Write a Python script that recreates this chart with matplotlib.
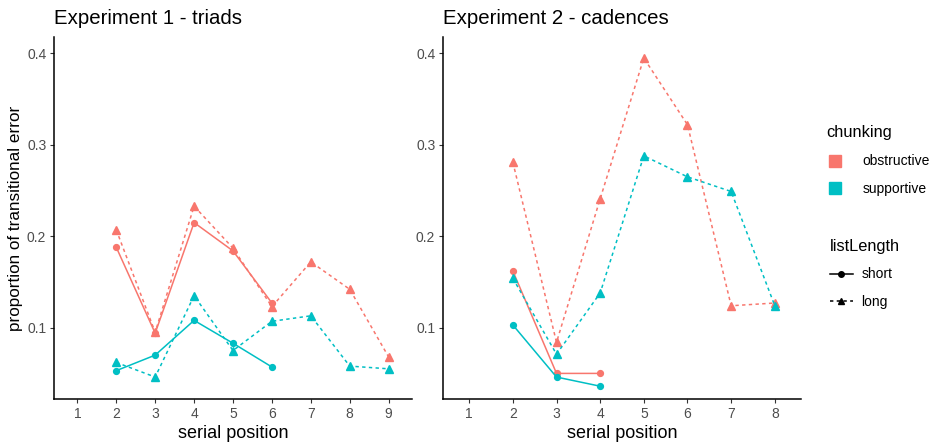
import matplotlib
matplotlib.use("Agg")
import matplotlib.pyplot as plt
from matplotlib.lines import Line2D

plt.rcParams['font.family'] = ['Liberation Sans', 'DejaVu Sans']

RED = '#F8766D'
CYAN = '#00BFC4'

# Experiment 1 - triads
e1_short_pos = [2, 3, 4, 5, 6]
e1_long_pos = [2, 3, 4, 5, 6, 7, 8, 9]
e1_obs_short = [0.188, 0.094, 0.215, 0.184, 0.127]
e1_obs_long = [0.207, 0.095, 0.233, 0.187, 0.123, 0.172, 0.142, 0.068]
e1_sup_short = [0.053, 0.070, 0.108, 0.083, 0.057]
e1_sup_long = [0.062, 0.046, 0.135, 0.075, 0.107, 0.113, 0.058, 0.055]

# Experiment 2 - cadences
e2_short_pos = [2, 3, 4]
e2_long_pos = [2, 3, 4, 5, 6, 7, 8]
e2_obs_short = [0.162, 0.050, 0.050]
e2_obs_long = [0.281, 0.084, 0.241, 0.395, 0.322, 0.124, 0.127]
e2_sup_short = [0.103, 0.046, 0.036]
e2_sup_long = [0.154, 0.071, 0.138, 0.288, 0.265, 0.249, 0.124]

titles = ["Experiment 1 - triads", "Experiment 2 - cadences"]
chunk_labels = ["obstructive", "supportive"]
length_labels = ["short", "long"]
yticks = [0.1, 0.2, 0.3, 0.4]

W, H = 933, 442
fig = plt.figure(figsize=(W / 100, H / 100), dpi=100)

def box(x0, x1, y0, y1):
    return [x0 / W, 1 - y1 / H, (x1 - x0) / W, (y1 - y0) / H]

ax1 = fig.add_axes(box(54, 412, 37, 399))
ax2 = fig.add_axes(box(443, 801, 37, 399))

DASH = (0, (2.2, 2.2))
LW = 1.1

def draw(ax, sp, lp, os_, ol, ss, sl, nmax, title):
    ax.plot(sp, os_, color=RED, lw=LW, marker='o', ms=4.2, ls='-')
    ax.plot(lp, ol, color=RED, lw=LW, marker='^', ms=5.2, ls=DASH)
    ax.plot(sp, ss, color=CYAN, lw=LW, marker='o', ms=4.2, ls='-')
    ax.plot(lp, sl, color=CYAN, lw=LW, marker='^', ms=5.2, ls=DASH)
    ax.set_xlim(0.4, nmax + 0.6)
    ax.set_ylim(0.022, 0.418)
    ax.set_xticks(list(range(1, nmax + 1)))
    ax.set_yticks(yticks)
    ax.set_yticklabels([f"{v:.1f}" for v in yticks])
    for s in ['top', 'right']:
        ax.spines[s].set_visible(False)
    for s in ['left', 'bottom']:
        ax.spines[s].set_linewidth(1.1)
        ax.spines[s].set_color('black')
    ax.tick_params(axis='both', length=3, width=0.8, color='#333333',
                   labelsize=10, labelcolor='#4D4D4D', pad=2.5)
    ax.set_xlabel("serial position", fontsize=13, color='black', labelpad=3)
    ax.set_title(title, loc='left', fontsize=14.7, color='black', pad=9)

draw(ax1, e1_short_pos, e1_long_pos, e1_obs_short, e1_obs_long,
     e1_sup_short, e1_sup_long, 9, titles[0])
draw(ax2, e2_short_pos, e2_long_pos, e2_obs_short, e2_obs_long,
     e2_sup_short, e2_sup_long, 8, titles[1])
ax1.set_ylabel("proportion of transitional error", fontsize=12.3, labelpad=3)

# Legends
h1 = [Line2D([], [], marker='s', ls='', color=c, ms=8) for c in (RED, CYAN)]
leg1 = fig.legend(h1, chunk_labels, title="chunking", loc='upper left',
                  bbox_to_anchor=(814 / W, 1 - 113 / H), frameon=False,
                  fontsize=10, title_fontsize=11.8, alignment='left',
                  handlelength=1.2, handletextpad=1.4, labelspacing=1.0)
h2 = [Line2D([], [], marker='o', ls='-', color='black', ms=4, lw=LW),
      Line2D([], [], marker='^', ls=DASH, color='black', ms=5, lw=LW)]
leg2 = fig.legend(h2, length_labels, title="listLength", loc='upper left',
                  bbox_to_anchor=(817 / W, 1 - 226 / H), frameon=False,
                  fontsize=10, title_fontsize=11.8, alignment='left',
                  handlelength=1.7, handletextpad=0.6, labelspacing=1.0)

fig.savefig("out.png", dpi=100)
